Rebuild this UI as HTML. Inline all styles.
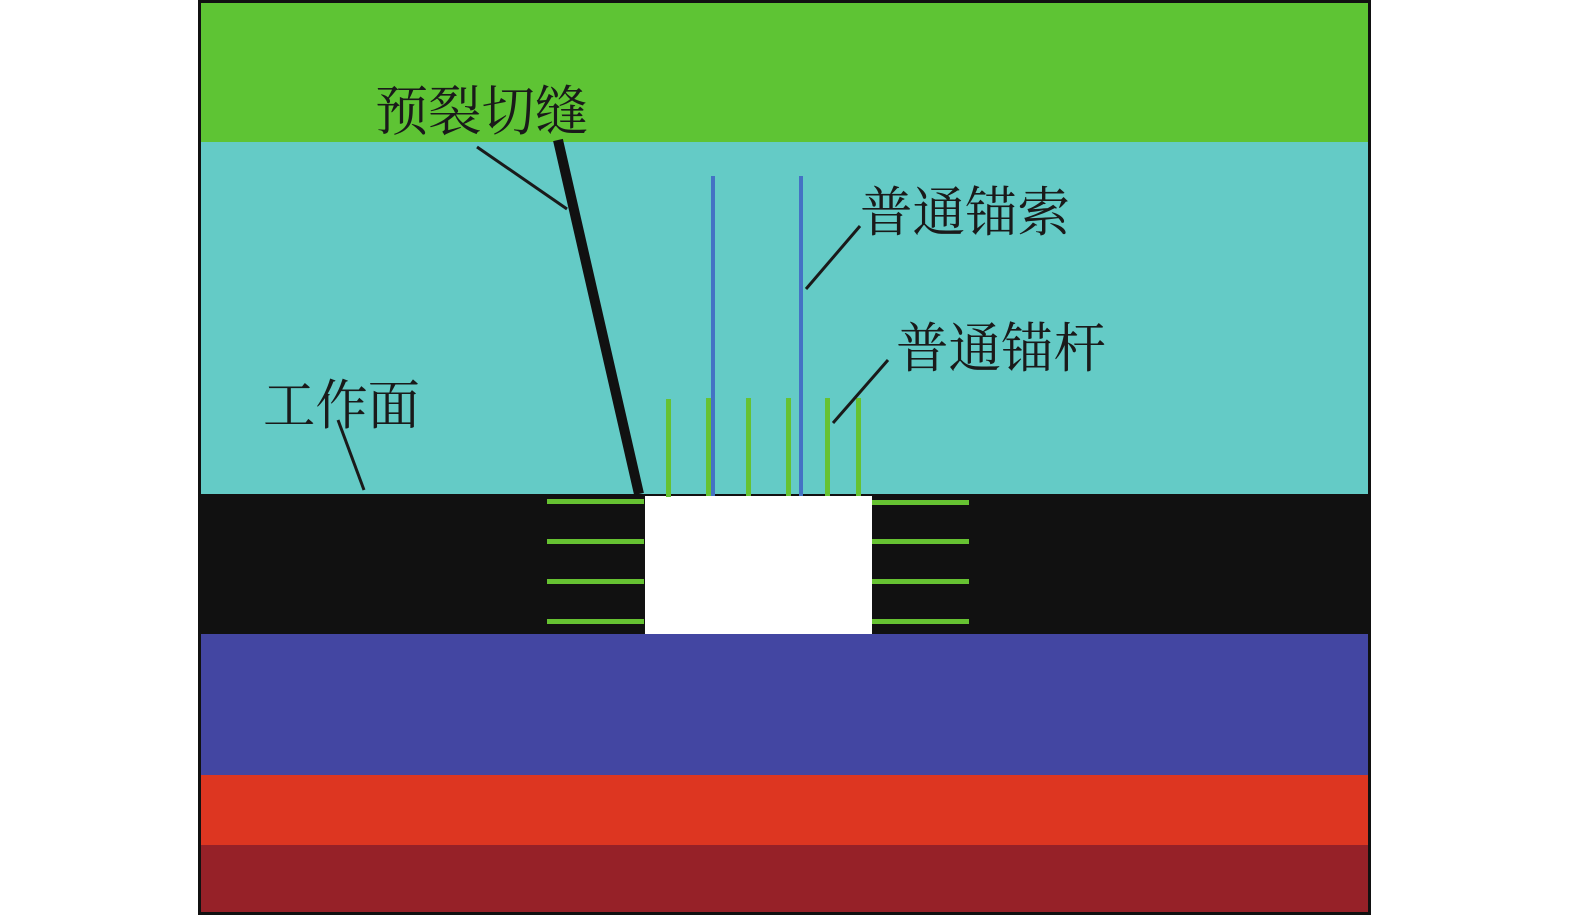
<!DOCTYPE html>
<html><head><meta charset="utf-8"><style>
html,body{margin:0;padding:0;background:#fff;width:1575px;height:918px;overflow:hidden}
svg text{font-family:"Liberation Serif","Noto Serif CJK SC",serif;font-size:54px;fill:#1a1a1a}
</style></head><body>
<svg width="1575" height="918" viewBox="0 0 1575 918" xmlns="http://www.w3.org/2000/svg">
<rect x="198" y="0" width="1173" height="915" fill="#111"/>
<rect x="201" y="3" width="1167" height="139" fill="#5ec434"/>
<rect x="201" y="142" width="1167" height="352" fill="#64cbc6"/>
<rect x="201" y="494" width="1167" height="140" fill="#111"/>
<rect x="201" y="634" width="1167" height="141" fill="#4346a2"/>
<rect x="201" y="775" width="1167" height="70" fill="#dd3621"/>
<rect x="201" y="845" width="1167" height="67" fill="#962128"/>
<rect x="645" y="496" width="227" height="138" fill="#fff"/>
<g fill="#66c232">
<rect x="547" y="499" width="97" height="5"/><rect x="547" y="539" width="97" height="5"/>
<rect x="547" y="579" width="97" height="5"/><rect x="547" y="619" width="97" height="5"/>
<rect x="872" y="500" width="97" height="5"/><rect x="872" y="539" width="97" height="5"/>
<rect x="872" y="579" width="97" height="5"/><rect x="872" y="619" width="97" height="5"/>
<rect x="666" y="399" width="5" height="98"/><rect x="706" y="398" width="5" height="98"/>
<rect x="746" y="398" width="5" height="98"/><rect x="786" y="398" width="5" height="98"/>
<rect x="825" y="398" width="5" height="98"/><rect x="856" y="398" width="5" height="98"/>
</g>
<rect x="711" y="176" width="4" height="320" fill="#4472c4"/>
<rect x="799" y="176" width="4" height="320" fill="#4472c4"/>
<line x1="558" y1="140" x2="639" y2="494" stroke="#111" stroke-width="10"/>
<g stroke="#1a1a1a" stroke-width="3">
<line x1="477" y1="147" x2="567" y2="209"/>
<line x1="338" y1="420" x2="364" y2="490"/>
<line x1="860" y1="226" x2="806" y2="289"/>
<line x1="888" y1="360" x2="833" y2="423"/>
</g>
<text x="375" y="130" textLength="213" lengthAdjust="spacingAndGlyphs">预裂切缝</text>
<text x="860" y="231" textLength="210" lengthAdjust="spacingAndGlyphs">普通锚索</text>
<text x="896" y="367" textLength="210" lengthAdjust="spacingAndGlyphs">普通锚杆</text>
<text x="263" y="424" textLength="157" lengthAdjust="spacingAndGlyphs">工作面</text>
</svg>
</body></html>
